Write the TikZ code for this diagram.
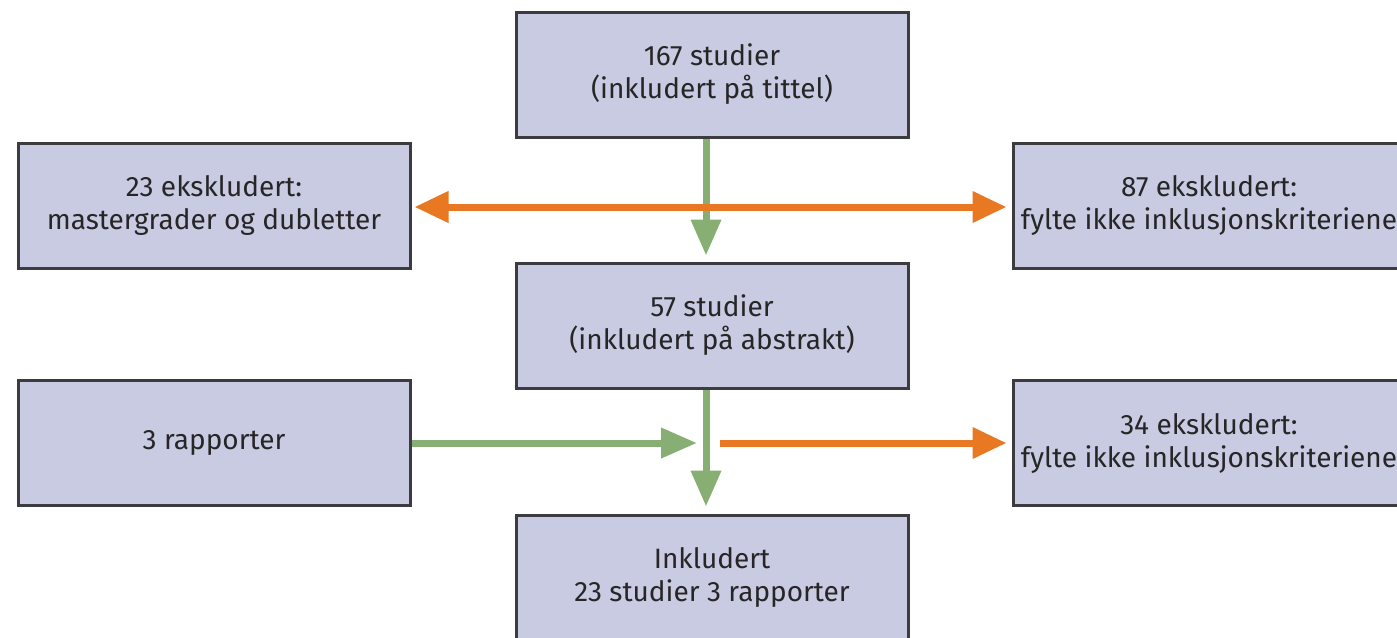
\documentclass[tikz,border=0pt]{standalone}
\usepackage{fontspec}
\setmainfont{Fira Sans}
\usepackage{tikz}
\usetikzlibrary{arrows.meta}
\definecolor{boxfill}{RGB}{200,203,226}
\definecolor{boxline}{RGB}{60,60,64}
\definecolor{grn}{RGB}{135,174,115}
\definecolor{orng}{RGB}{232,120,34}

\begin{document}
\begin{tikzpicture}[x=0.5pt,y=0.5pt,
  boks/.style={draw=boxline,line width=1.5pt,fill=boxfill,minimum width=196pt,
    minimum height=62.5pt,inner sep=0pt,align=center,
    font=\fontsize{14}{16.5}\selectfont,text=black!85},
  inn/.style={draw=grn,line width=3.5pt,-{Triangle[length=18pt,width=14.5pt]}},
  ut/.style={draw=orng,line width=3.5pt,-{Triangle[length=17pt,width=15pt]}}]
  \useasboundingbox (0,0) rectangle (1397,-637);
  \clip (0,0) rectangle (1397,-637);

  \node[boks] (tittel) at (712,-74.5) {167 studier\\(inkludert på tittel)};
  \node[boks] (dubl) at (214,-205.5) {23 ekskludert:\\mastergrader og dubletter};
  \node[boks] (eks1) at (1209,-205.5) {87 ekskludert:\\fylte ikke inklusjonskriteriene};
  \node[boks] (abstr) at (712,-325.5) {57 studier\\(inkludert på abstrakt)};
  \node[boks] (rapp) at (214,-443) {3 rapporter};
  \node[boks] (eks2) at (1209,-443) {34 ekskludert:\\fylte ikke inklusjonskriteriene};
  \node[boks] (inkl) at (712,-577.5) {Inkludert\\23 studier 3 rapporter};

  \coordinate (kryss) at (697,-443);
  \coordinate (start) at (720,-443);

  \draw[inn] (tittel.south -| 706,0) -- ([yshift=3pt]abstr.north -| 706,0);
  \draw[ut,{Triangle[length=17pt,width=15pt]}-{Triangle[length=17pt,width=15pt]}]
    ([xshift=1.5pt]dubl.east |- 0,-207) -- ([xshift=-2.5pt]eks1.west |- 0,-207);
  \draw[inn] (abstr.south -| 706,0) -- ([yshift=3.5pt]inkl.north -| 706,0);
  \draw[inn] (rapp.east) -- (kryss);
  \draw[ut] (start) -- ([xshift=-2.5pt]eks2.west);
\end{tikzpicture}
\end{document}
